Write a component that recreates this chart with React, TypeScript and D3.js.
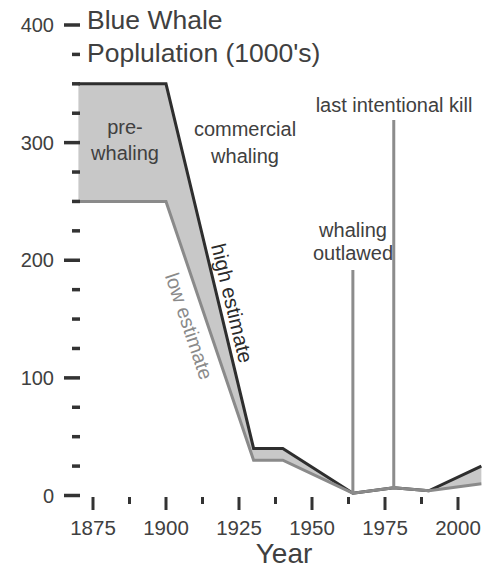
import React from "react";
import * as d3 from "d3";

// values
const years = [1870, 1900, 1930, 1940, 1964, 1978, 1990, 2008];
const highEstimate = [350, 350, 40, 40, 2, 6.5, 4, 25];
const lowEstimate = [250, 250, 30, 30, 2, 6.5, 4, 10];

const yTickValues = d3.range(0, 401, 25);
const yMajor = [0, 100, 200, 300, 400];
const xTickValues = d3.range(1875, 2001, 12.5);
const xMajor = [1875, 1900, 1925, 1950, 1975, 2000];

const events = [
  { year: 1964, top: 270, lines: ["whaling", "outlawed"] },
  { year: 1978, top: 120, lines: ["last intentional kill"] },
];

const FONT = "'Liberation Sans', Arial, sans-serif";
const TEXT = "#404040";

export default function App() {
  const width = 484;
  const height = 570;

  const x = d3.scaleLinear().domain([1875, 2000]).range([93, 458]);
  const y = d3.scaleLinear().domain([0, 400]).range([495.5, 25]);

  const rows = years.map((yr, i) => ({ yr, hi: highEstimate[i], lo: lowEstimate[i] }));

  const area = d3
    .area<{ yr: number; hi: number; lo: number }>()
    .x((d) => x(d.yr))
    .y0((d) => y(d.lo))
    .y1((d) => y(d.hi));
  const highLine = d3
    .line<{ yr: number; hi: number; lo: number }>()
    .x((d) => x(d.yr))
    .y((d) => y(d.hi));
  const lowLine = d3
    .line<{ yr: number; hi: number; lo: number }>()
    .x((d) => x(d.yr))
    .y((d) => y(d.lo));

  // angles of the falling segments (1900 -> 1930)
  const hiAngle =
    (Math.atan2(y(highEstimate[2]) - y(highEstimate[1]), x(years[2]) - x(years[1])) * 180) / Math.PI;
  const loAngle =
    (Math.atan2(y(lowEstimate[2]) - y(lowEstimate[1]), x(years[2]) - x(years[1])) * 180) / Math.PI;
  const at = (yr: number, arr: number[]) =>
    d3.scaleLinear().domain([years[1], years[2]]).range([arr[1], arr[2]])(yr);

  const hiLabelYear = 1918.3;
  const loLabelYear = 1913.8;

  return (
    <svg
      width={width}
      height={height}
      style={{ position: "absolute", left: 0, top: 0, background: "#fff" }}
      fontFamily={FONT}
    >
      {/* band between the estimates */}
      <path d={area(rows) as string} fill="#c8c8c8" />
      <path d={highLine(rows) as string} fill="none" stroke="#2e2e2e" strokeWidth={3} />
      <path d={lowLine(rows) as string} fill="none" stroke="#8a8a8a" strokeWidth={3} />

      {/* event markers */}
      {events.map((e, i) => {
        const idx = years.indexOf(e.year);
        return (
          <line
            key={i}
            x1={x(e.year)}
            x2={x(e.year)}
            y1={e.top}
            y2={y(lowEstimate[idx])}
            stroke="#8c8c8c"
            strokeWidth={3}
          />
        );
      })}

      {/* y axis ticks */}
      {yTickValues.map((v) => {
        const major = yMajor.includes(v);
        return (
          <g key={v}>
            <line x1={major ? 64 : 72} x2={80} y1={y(v)} y2={y(v)} stroke="#333" strokeWidth={3.5} />
            {major && (
              <text x={54} y={y(v)} dy="0.35em" textAnchor="end" fontSize={20} fill={TEXT}>
                {v}
              </text>
            )}
          </g>
        );
      })}

      {/* x axis ticks */}
      {xTickValues.map((v) => {
        const major = xMajor.includes(v);
        return (
          <g key={v}>
            <line x1={x(v)} x2={x(v)} y1={497} y2={major ? 510 : 504} stroke="#333" strokeWidth={3} />
            {major && (
              <text x={x(v)} y={535} textAnchor="middle" fontSize={20.5} fill={TEXT}>
                {v}
              </text>
            )}
          </g>
        );
      })}
      <text x={284} y={563} textAnchor="middle" fontSize={28} fill={TEXT}>
        Year
      </text>

      {/* title */}
      <text x={87} y={28.5} fontSize={26.5} fill={TEXT}>
        Blue Whale
      </text>
      <text x={87} y={61.5} fontSize={26.5} fill={TEXT}>
        Poplulation (1000's)
      </text>

      {/* period labels */}
      <text textAnchor="middle" fontSize={20} fill={TEXT}>
        <tspan x={125} y={134}>pre-</tspan>
        <tspan x={125} y={159.5}>whaling</tspan>
      </text>
      <text textAnchor="middle" fontSize={20} fill={TEXT}>
        <tspan x={245} y={135.5}>commercial</tspan>
        <tspan x={245} y={163}>whaling</tspan>
      </text>
      <text textAnchor="middle" fontSize={20} fill={TEXT}>
        <tspan x={353} y={236.5}>whaling</tspan>
        <tspan x={353} y={260}>outlawed</tspan>
      </text>
      <text x={394} y={111.5} textAnchor="middle" fontSize={20} fill={TEXT}>
        last intentional kill
      </text>

      {/* estimate labels along the decline */}
      <g transform={`translate(${x(hiLabelYear)},${y(at(hiLabelYear, highEstimate))}) rotate(${hiAngle})`}>
        <text x={0} y={-6} textAnchor="middle" fontSize={20.5} fill="#2a2a2a">
          high estimate
        </text>
      </g>
      <g transform={`translate(${x(loLabelYear)},${y(at(loLabelYear, lowEstimate))}) rotate(${loAngle})`}>
        <text x={0} y={25} textAnchor="middle" fontSize={20} fill="#8a8a8a">
          low estimate
        </text>
      </g>
    </svg>
  );
}
